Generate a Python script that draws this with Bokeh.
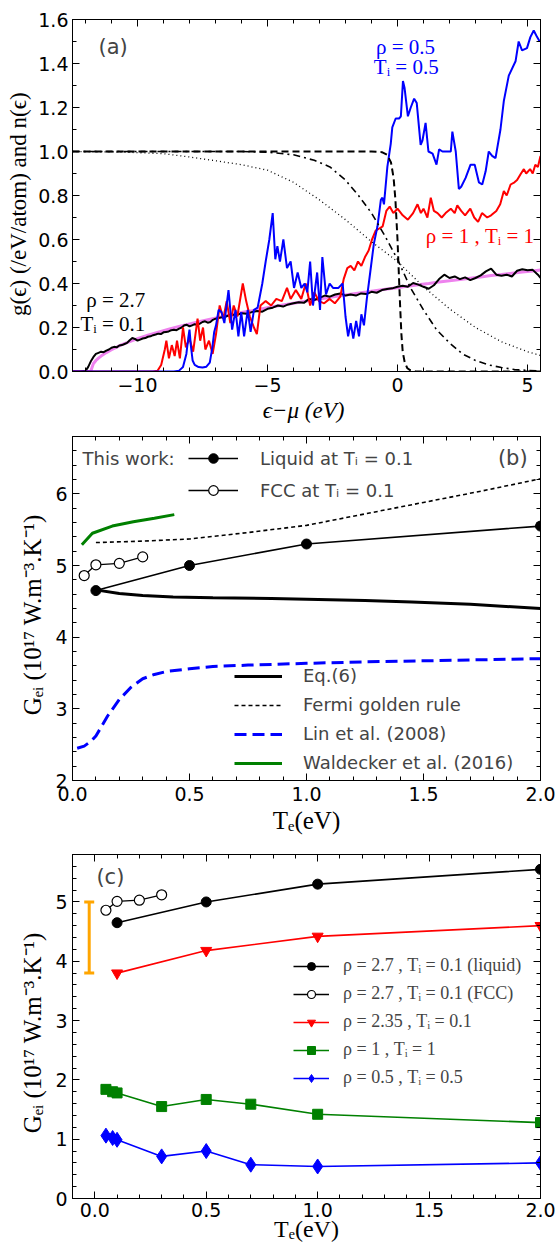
from bokeh.plotting import figure
from bokeh.layouts import column
from bokeh.models import (Range1d, LinearAxis, SingleIntervalTicker, Label, Legend,
                          LegendItem, Whisker, TeeHead, ColumnDataSource, CustomJSTickFormatter)
from bokeh.embed import file_html
from bokeh.resources import INLINE

SANS = "DejaVu Sans"
SERIF = "Liberation Serif"

# ---------------- panel (a) data ----------------
fe_eps = [-12.5, -11.8, -11.7, -11.6, -11.5, -11.4, -11.3, -11.2, -11.0, -10.8, -10.6, -10.4, -10.2, -10.0,
          -9.6, -9.2, -8.8, -8.4, -8.0, -7.6, -7.2, -6.8, -6.4, -6.0, -5.6, -5.2, -4.8, -4.4, -4.0,
          -3.6, -3.2, -2.8, -2.4, -2.0, -1.6, -1.2, -0.8, -0.4, 0.0, 0.4, 0.8, 1.2, 1.6, 2.0,
          2.4, 2.8, 3.2, 3.6, 4.0, 4.4, 4.8, 5.2, 5.5]
fe_dos = [0.0, 0.0, 0.035, 0.05, 0.061, 0.07, 0.078, 0.086, 0.099, 0.111, 0.122, 0.131, 0.14, 0.149,
          0.165, 0.179, 0.192, 0.205, 0.216, 0.227, 0.238, 0.248, 0.258, 0.268, 0.276, 0.285, 0.294, 0.302, 0.31,
          0.318, 0.326, 0.333, 0.341, 0.348, 0.355, 0.361, 0.368, 0.375, 0.381, 0.388, 0.394, 0.4, 0.407, 0.412,
          0.418, 0.424, 0.43, 0.436, 0.441, 0.447, 0.452, 0.457, 0.461]

dos_rho27 = [(-12.5, 0.0), (-12.2, 0.0), (-12.0, 0.003), (-11.9, 0.02), (-11.8, 0.045), (-11.7, 0.065),
             (-11.6, 0.08), (-11.5, 0.085), (-11.4, 0.09), (-11.3, 0.088), (-11.2, 0.095), (-11.1, 0.1),
             (-11.0, 0.108), (-10.9, 0.112), (-10.8, 0.11), (-10.7, 0.118), (-10.6, 0.12), (-10.5, 0.125),
             (-10.4, 0.13), (-10.3, 0.142), (-10.2, 0.152), (-10.1, 0.148), (-10.0, 0.14), (-9.9, 0.145),
             (-9.8, 0.15), (-9.7, 0.152), (-9.6, 0.158), (-9.5, 0.16), (-9.4, 0.165), (-9.3, 0.168),
             (-9.2, 0.172), (-9.1, 0.17), (-9.0, 0.178), (-8.9, 0.18), (-8.8, 0.182), (-8.7, 0.188),
             (-8.6, 0.19), (-8.5, 0.188), (-8.4, 0.195), (-8.3, 0.2), (-8.2, 0.21), (-8.1, 0.212),
             (-8.0, 0.205), (-7.9, 0.21), (-7.8, 0.215), (-7.7, 0.212), (-7.6, 0.218), (-7.5, 0.225),
             (-7.4, 0.228), (-7.3, 0.222), (-7.2, 0.225), (-7.1, 0.235), (-7.0, 0.24), (-6.8, 0.245),
             (-6.6, 0.25), (-6.4, 0.26), (-6.2, 0.255), (-6.0, 0.265), (-5.8, 0.262), (-5.6, 0.27),
             (-5.4, 0.275), (-5.2, 0.272), (-5.0, 0.285), (-4.8, 0.29), (-4.6, 0.3), (-4.4, 0.295),
             (-4.2, 0.305), (-4.0, 0.31), (-3.8, 0.315), (-3.6, 0.312), (-3.4, 0.33), (-3.2, 0.325),
             (-3.0, 0.335), (-2.8, 0.345), (-2.6, 0.34), (-2.4, 0.35), (-2.2, 0.355), (-2.0, 0.345),
             (-1.8, 0.35), (-1.6, 0.345), (-1.4, 0.355), (-1.2, 0.352), (-1.0, 0.362), (-0.8, 0.358),
             (-0.6, 0.37), (-0.4, 0.375), (-0.2, 0.378), (0.0, 0.385), (0.2, 0.39), (0.4, 0.385),
             (0.6, 0.402), (0.8, 0.395), (1.0, 0.385), (1.2, 0.376), (1.4, 0.392), (1.6, 0.42),
             (1.8, 0.44), (2.0, 0.425), (2.2, 0.432), (2.4, 0.42), (2.6, 0.428), (2.8, 0.415),
             (3.0, 0.425), (3.2, 0.437), (3.4, 0.455), (3.6, 0.468), (3.8, 0.44), (4.0, 0.435),
             (4.2, 0.44), (4.4, 0.432), (4.6, 0.458), (4.8, 0.465), (5.0, 0.46), (5.2, 0.462),
             (5.4, 0.44), (5.5, 0.425)]

dos_rho1 = [(-12.5, 0.0), (-9.4, 0.0), (-9.23, 0.003), (-9.09, 0.03), (-8.95, 0.1), (-8.89, 0.14),
            (-8.79, 0.06), (-8.68, 0.12), (-8.57, 0.07), (-8.48, 0.14), (-8.37, 0.06), (-8.25, 0.2),
            (-8.14, 0.11), (-8.0, 0.15), (-7.86, 0.09), (-7.69, 0.24), (-7.59, 0.14), (-7.48, 0.2),
            (-7.39, 0.1), (-7.25, 0.14), (-7.11, 0.08), (-6.98, 0.17), (-6.84, 0.3), (-6.7, 0.24),
            (-6.57, 0.32), (-6.43, 0.22), (-6.3, 0.3), (-6.16, 0.25), (-5.95, 0.4), (-5.82, 0.32),
            (-5.68, 0.25), (-5.52, 0.2), (-5.41, 0.17), (-5.27, 0.3), (-5.07, 0.32), (-4.86, 0.3),
            (-4.66, 0.33), (-4.45, 0.32), (-4.25, 0.38), (-4.11, 0.33), (-3.91, 0.37), (-3.7, 0.33),
            (-3.53, 0.4), (-3.36, 0.3), (-3.2, 0.36), (-3.02, 0.32), (-2.82, 0.31), (-2.61, 0.33),
            (-2.41, 0.31), (-2.2, 0.34), (-2.07, 0.42), (-1.93, 0.47), (-1.8, 0.48), (-1.66, 0.46),
            (-1.52, 0.5), (-1.39, 0.48), (-1.25, 0.52), (-1.11, 0.55), (-0.98, 0.6), (-0.84, 0.64),
            (-0.7, 0.65), (-0.57, 0.66), (-0.43, 0.73), (-0.3, 0.75), (-0.16, 0.72), (0.0, 0.74),
            (0.2, 0.71), (0.4, 0.69), (0.6, 0.72), (0.77, 0.76), (0.9, 0.72), (1.0, 0.74), (1.15, 0.7),
            (1.28, 0.79), (1.4, 0.73), (1.54, 0.72), (1.7, 0.7), (1.85, 0.72), (2.05, 0.74), (2.2, 0.72),
            (2.3, 0.755), (2.45, 0.73), (2.6, 0.71), (2.8, 0.74), (2.95, 0.7), (3.1, 0.68), (3.25, 0.72),
            (3.45, 0.7), (3.6, 0.71), (3.8, 0.73), (3.95, 0.76), (4.09, 0.82), (4.2, 0.8), (4.35, 0.85),
            (4.5, 0.86), (4.6, 0.87), (4.75, 0.9), (4.86, 0.92), (4.95, 0.9), (5.1, 0.92), (5.2, 0.9),
            (5.3, 0.94), (5.4, 0.93), (5.5, 0.98)]

dos_rho05 = [(-12.5, 0.0), (-8.6, 0.0), (-8.4, 0.004), (-8.25, 0.02), (-8.12, 0.08), (-8.05, 0.15),
             (-8.0, 0.19), (-7.95, 0.12), (-7.88, 0.05), (-7.8, 0.03), (-7.65, 0.02), (-7.5, 0.018),
             (-7.35, 0.022), (-7.22, 0.04), (-7.12, 0.11), (-7.05, 0.18), (-6.98, 0.21), (-6.88, 0.28),
             (-6.77, 0.27), (-6.66, 0.22), (-6.5, 0.37), (-6.36, 0.19), (-6.23, 0.28), (-6.12, 0.16),
             (-6.01, 0.27), (-5.9, 0.16), (-5.76, 0.28), (-5.65, 0.18), (-5.52, 0.28), (-5.38, 0.29),
             (-5.2, 0.4), (-5.07, 0.5), (-4.93, 0.6), (-4.8, 0.72), (-4.7, 0.51), (-4.62, 0.57),
             (-4.52, 0.5), (-4.39, 0.6), (-4.25, 0.47), (-4.11, 0.5), (-3.98, 0.38), (-3.84, 0.45),
             (-3.7, 0.38), (-3.57, 0.4), (-3.47, 0.36), (-3.36, 0.5), (-3.25, 0.3), (-3.09, 0.45),
             (-2.98, 0.28), (-2.89, 0.52), (-2.75, 0.35), (-2.61, 0.4), (-2.48, 0.38), (-2.27, 0.38),
             (-2.11, 0.4), (-2.0, 0.25), (-1.9, 0.16), (-1.8, 0.22), (-1.7, 0.15), (-1.59, 0.23),
             (-1.48, 0.16), (-1.39, 0.26), (-1.29, 0.21), (-1.18, 0.33), (-1.05, 0.45), (-0.91, 0.58),
             (-0.77, 0.66), (-0.64, 0.78), (-0.58, 0.79), (-0.52, 0.76), (-0.39, 0.93), (-0.26, 1.035),
             (-0.2, 1.11), (-0.07, 1.15), (0.06, 1.15), (0.13, 1.16), (0.21, 1.32), (0.27, 1.29),
             (0.4, 1.16), (0.51, 1.2), (0.64, 1.24), (0.74, 1.22), (0.89, 1.03), (0.96, 1.05),
             (1.08, 1.13), (1.19, 1.0), (1.35, 0.99), (1.5, 0.94), (1.6, 1.01), (1.73, 1.0), (1.92, 1.0),
             (2.05, 1.0), (2.11, 1.09), (2.24, 1.0), (2.36, 0.83), (2.45, 0.84), (2.62, 0.88),
             (2.81, 0.94), (2.97, 0.94), (3.13, 0.86), (3.26, 0.85), (3.39, 0.91), (3.51, 1.0),
             (3.64, 0.98), (3.77, 0.97), (3.96, 1.1), (4.09, 1.23), (4.28, 1.345), (4.54, 1.41),
             (4.66, 1.5), (4.79, 1.46), (4.98, 1.47), (5.11, 1.52), (5.24, 1.55), (5.37, 1.52),
             (5.47, 1.5)]

occ_low_eps = [-12.5, -1.0, -0.6, -0.4, -0.25, -0.15, -0.08, 0.0, 0.05, 0.1, 0.15, 0.2, 0.28, 0.38, 0.5, 0.7, 5.5]
occ_low = [1.0, 1.0, 0.997, 0.985, 0.95, 0.88, 0.78, 0.6, 0.45, 0.3, 0.17, 0.09, 0.04, 0.015, 0.005, 0.0, 0.0]
occ_mid_eps = [-12.5, -6.0, -5.0, -4.0, -3.2, -2.6, -2.0, -1.5, -1.0, -0.5, 0.0, 0.5, 1.0, 1.5,
               2.0, 2.5, 3.0, 3.5, 4.0, 4.5, 5.0, 5.5]
occ_mid = [1.0, 1.0, 0.997, 0.985, 0.96, 0.93, 0.87, 0.8, 0.72, 0.62, 0.51, 0.38, 0.28, 0.19,
           0.13, 0.08, 0.05, 0.03, 0.018, 0.009, 0.005, 0.003]
occ_high_eps = [-12.5, -11.0, -10.0, -9.0, -8.0, -7.0, -6.0, -5.0, -4.0, -3.0, -2.0, -1.0, 0.0,
                1.0, 2.0, 3.0, 4.0, 5.0, 5.5]
occ_high = [1.0, 0.998, 0.995, 0.99, 0.975, 0.958, 0.94, 0.915, 0.86, 0.78, 0.69, 0.59, 0.5,
            0.385, 0.285, 0.2, 0.135, 0.09, 0.073]

# ---------------- panel (b) / (c) data ----------------
te_liq = [0.1, 0.5, 1.0, 2.0]
g_liq = [4.65, 5.0, 5.3, 5.55]
te_fcc = [0.05, 0.1, 0.2, 0.3]
g_fcc = [4.86, 5.01, 5.03, 5.12]
te_eq6 = [0.1, 0.2, 0.3, 0.43, 0.6, 0.85, 1.0, 1.25, 1.45, 1.7, 2.0]
g_eq6 = [4.66, 4.61, 4.58, 4.56, 4.55, 4.54, 4.53, 4.51, 4.49, 4.46, 4.40]
te_fgr = [0.1, 0.3, 0.5, 0.75, 1.0, 1.25, 1.5, 1.75, 2.0]
g_fgr = [5.32, 5.34, 5.37, 5.46, 5.56, 5.72, 5.88, 6.04, 6.21]
te_lin = [0.02, 0.05, 0.08, 0.1, 0.15, 0.2, 0.25, 0.3, 0.35, 0.4, 0.5, 0.6, 0.75, 1.0,
          1.25, 1.5, 1.75, 2.0]
g_lin = [2.45, 2.48, 2.55, 2.62, 2.9, 3.13, 3.3, 3.42, 3.48, 3.52, 3.56, 3.59, 3.61, 3.635,
         3.655, 3.67, 3.685, 3.7]
te_wal = [0.04, 0.085, 0.17, 0.26, 0.35, 0.435]
g_wal = [5.29, 5.45, 5.55, 5.61, 5.66, 5.71]

te_235 = [0.1, 0.5, 1.0, 2.0]
g_235 = [3.8, 4.18, 4.42, 4.6]
te_lowrho = [0.05, 0.08, 0.1, 0.3, 0.5, 0.7, 1.0, 2.0]
g_rho1 = [1.84, 1.8, 1.78, 1.55, 1.67, 1.59, 1.42, 1.28]
g_rho05 = [1.06, 1.02, 0.99, 0.71, 0.8, 0.57, 0.54, 0.6]
exp_te = [-0.025]
exp_lo = [3.8]
exp_hi = [5.0]


def fmt(code):
    return CustomJSTickFormatter(code=code)


def style(p, xint, xminor, yint, yminor, xfmt, yfmt):
    p.grid.visible = False
    p.outline_line_color = "black"
    p.outline_line_alpha = 1.0
    p.outline_line_width = 1
    p.background_fill_color = "white"
    p.border_fill_color = "white"
    xt = SingleIntervalTicker(interval=xint, num_minor_ticks=xminor)
    yt = SingleIntervalTicker(interval=yint, num_minor_ticks=yminor)
    bottom = p.xaxis[0]
    left = p.yaxis[0]
    bottom.ticker = xt
    left.ticker = yt
    bottom.formatter = fmt(xfmt)
    left.formatter = fmt(yfmt)
    top = LinearAxis(ticker=xt)
    right = LinearAxis(ticker=yt)
    p.add_layout(top, "above")
    p.add_layout(right, "right")
    for ax in (bottom, left, top, right):
        ax.major_tick_in = 7
        ax.major_tick_out = 0
        ax.minor_tick_in = 4
        ax.minor_tick_out = 0
        ax.axis_line_color = "black"
        ax.major_tick_line_color = "black"
        ax.minor_tick_line_color = "black"
        ax.major_label_text_font = SANS
        ax.major_label_text_font_size = "19px"
        ax.major_label_text_color = "black"
        ax.major_label_standoff = 5
        ax.axis_label_text_font = SERIF
        ax.axis_label_text_font_style = "normal"
        ax.axis_label_text_color = "black"
    for ax in (top, right):
        ax.major_label_text_font_size = "8px"
        ax.major_label_text_color = None
        ax.major_label_text_alpha = 0
        ax.major_label_standoff = 0
        ax.axis_label = None
    return bottom, left


# ================= panel (a) =================
pa = figure(width=557, height=429, output_backend="svg", toolbar_location=None,
            x_range=Range1d(-12.5, 5.5), y_range=Range1d(0, 1.6),
            min_border_left=71, min_border_right=17, min_border_top=19, min_border_bottom=58)
ax_b, ax_l = style(pa, 5, 5, 0.2, 2,
                   "return tick < 0 ? '\\u2212' + (-tick) : '' + tick;",
                   "return tick.toFixed(1);")
ax_l.axis_label = "g(ϵ)  (/eV/atom)  and  n(ϵ)"
ax_l.axis_label_text_font_size = "23px"
ax_l.axis_label_standoff = 4
ax_l.major_label_standoff = 4
ax_b.axis_label = "ϵ−μ  (eV)"
ax_b.axis_label_text_font_size = "23px"
ax_b.axis_label_text_font_style = "italic"
ax_b.axis_label_standoff = 3
ax_b.major_label_standoff = 6

pa.line(fe_eps, fe_dos, line_color="violet", line_width=3)
pa.line([e for e, g in dos_rho27], [g for e, g in dos_rho27], line_color="black", line_width=2)
pa.line([e for e, g in dos_rho1], [g for e, g in dos_rho1], line_color="red", line_width=2)
pa.line([e for e, g in dos_rho05], [g for e, g in dos_rho05], line_color="blue", line_width=2)
pa.line(occ_low_eps, occ_low, line_color="black", line_width=2, line_dash="7 4")
pa.line(occ_mid_eps, occ_mid, line_color="black", line_width=1.6, line_dash="7 4 2 4")
pa.line(occ_high_eps, occ_high, line_color="black", line_width=1.3, line_dash="1 3")

pa.add_layout(Label(x=-11.5, y=1.473, text="(a)", text_font=SANS, text_font_size="21px",
                    text_baseline="middle", text_align="left"))
pa.add_layout(Label(x=-0.83, y=1.473, text="ρ = 0.5", text_font=SERIF, text_font_size="21px",
                    text_color="blue", text_baseline="middle", text_align="left"))
pa.add_layout(Label(x=-0.91, y=1.382, text="Tᵢ = 0.5", text_font=SERIF, text_font_size="21px",
                    text_color="blue", text_baseline="middle", text_align="left"))
pa.add_layout(Label(x=5.25, y=0.618, text="ρ = 1 , Tᵢ = 1", text_font=SERIF, text_font_size="21px",
                    text_color="red", text_baseline="middle", text_align="right"))
pa.add_layout(Label(x=-9.7, y=0.323, text="ρ = 2.7", text_font=SERIF, text_font_size="21px",
                    text_color="black", text_baseline="middle", text_align="right"))
pa.add_layout(Label(x=-9.7, y=0.218, text="Tᵢ = 0.1", text_font=SERIF, text_font_size="21px",
                    text_color="black", text_baseline="middle", text_align="right"))

# ================= panel (b) =================
pb = figure(width=557, height=413, output_backend="svg", toolbar_location=None,
            x_range=Range1d(0, 2.0), y_range=Range1d(2, 6.8),
            min_border_left=72, min_border_right=17, min_border_top=7, min_border_bottom=62)
bx_b, bx_l = style(pb, 0.5, 5, 1, 5, "return tick.toFixed(1);", "return tick.toFixed(0);")
bx_l.axis_label = "Gₑᵢ  (10¹⁷  W.m⁻³.K⁻¹)"
bx_l.axis_label_text_font_size = "25px"
bx_l.axis_label_standoff = 6
bx_l.major_label_standoff = 5
bx_b.axis_label = "Tₑ(eV)"
bx_b.axis_label_text_font_size = "25px"
bx_b.axis_label_standoff = 3
bx_b.major_label_standoff = 6

r_eq6 = pb.line(te_eq6, g_eq6, line_color="black", line_width=3)
r_fgr = pb.line(te_fgr, g_fgr, line_color="black", line_width=1.6, line_dash="4 3")
r_lin = pb.line(te_lin, g_lin, line_color="blue", line_width=3, line_dash="12 6")
r_wal = pb.line(te_wal, g_wal, line_color="green", line_width=3)
r_liq_l = pb.line(te_liq, g_liq, line_color="black", line_width=1.6)
r_liq_m = pb.scatter(te_liq, g_liq, marker="circle", size=10, fill_color="black", line_color="black")
r_fcc_l = pb.line(te_fcc, g_fcc, line_color="black", line_width=1.3)
r_fcc_m = pb.scatter(te_fcc, g_fcc, marker="circle", size=10, fill_color="white", line_color="black",
                     line_width=1.2)

pb.add_layout(Label(x=0.043, y=6.5, text="This work:", text_font=SANS, text_font_size="18px",
                    text_baseline="middle", text_align="left"))
pb.add_layout(Label(x=1.945, y=6.5, text="(b)", text_font=SANS, text_font_size="21px",
                    text_baseline="middle", text_align="right"))

leg_b1 = Legend(items=[LegendItem(label="Liquid at Tᵢ = 0.1", renderers=[r_liq_l, r_liq_m]),
                       LegendItem(label="FCC at Tᵢ = 0.1", renderers=[r_fcc_l, r_fcc_m])],
                location=(116, 278), glyph_width=50, glyph_height=24, label_height=24, spacing=8,
                label_standoff=22, padding=0, margin=0, border_line_color=None,
                background_fill_alpha=0, label_text_font=SANS, label_text_font_size="18px")
leg_b2 = Legend(items=[LegendItem(label="Eq.(6)", renderers=[r_eq6]),
                       LegendItem(label="Fermi golden rule", renderers=[r_fgr]),
                       LegendItem(label="Lin et al. (2008)", renderers=[r_lin]),
                       LegendItem(label="Waldecker et al. (2016)", renderers=[r_wal])],
                location=(162, 7), glyph_width=48, glyph_height=20, label_height=20, spacing=8,
                label_standoff=21, padding=0, margin=0, border_line_color=None,
                background_fill_alpha=0, label_text_font=SANS, label_text_font_size="18px")
pb.add_layout(leg_b1, "center")
pb.add_layout(leg_b2, "center")

# ================= panel (c) =================
pc = figure(width=557, height=405, output_backend="svg", toolbar_location=None,
            x_range=Range1d(-0.1, 2.0), y_range=Range1d(0, 5.8),
            min_border_left=66, min_border_right=17, min_border_top=12, min_border_bottom=49)
cx_b, cx_l = style(pc, 0.5, 5, 1, 5, "return tick.toFixed(1);", "return tick.toFixed(0);")
cx_l.axis_label = "Gₑᵢ  (10¹⁷  W.m⁻³.K⁻¹)"
cx_l.axis_label_text_font_size = "25px"
cx_l.axis_label_standoff = 6
cx_b.major_label_standoff = 4
cx_b.axis_label = "Tₑ(eV)"
cx_b.axis_label_text_font_size = "24px"
cx_b.axis_label_standoff = -4

src_err = ColumnDataSource(dict(x=exp_te, lo=exp_lo, hi=exp_hi))
pc.add_layout(Whisker(source=src_err, base="x", lower="lo", upper="hi", dimension="height",
                      line_color="orange", line_width=3,
                      upper_head=TeeHead(size=10, line_color="orange", line_width=3),
                      lower_head=TeeHead(size=10, line_color="orange", line_width=3)))

c_liq_l = pc.line(te_liq, g_liq, line_color="black", line_width=1.6)
c_liq_m = pc.scatter(te_liq, g_liq, marker="circle", size=10, fill_color="black", line_color="black")
c_fcc_l = pc.line(te_fcc, g_fcc, line_color="black", line_width=1.3)
c_fcc_m = pc.scatter(te_fcc, g_fcc, marker="circle", size=10, fill_color="white", line_color="black",
                     line_width=1.2)
c_235_l = pc.line(te_235, g_235, line_color="red", line_width=1.6)
c_235_m = pc.scatter(te_235, g_235, marker="inverted_triangle", size=11, fill_color="red", line_color="red")
c_1_l = pc.line(te_lowrho, g_rho1, line_color="green", line_width=1.6)
c_1_m = pc.scatter(te_lowrho, g_rho1, marker="square", size=10, fill_color="green", line_color="green")
c_05_l = pc.line(te_lowrho, g_rho05, line_color="blue", line_width=1.6)
c_05_m = pc.scatter(te_lowrho, g_rho05, marker="diamond", size=15, fill_color="blue", line_color="blue")

pc.add_layout(Label(x=0.07, y=5.42, text="(c)", text_font=SANS, text_font_size="21px",
                    text_baseline="middle", text_align="center"))

leg_c = Legend(items=[LegendItem(label="ρ = 2.7 , Tᵢ = 0.1 (liquid)", renderers=[c_liq_l, c_liq_m]),
                      LegendItem(label="ρ = 2.7 , Tᵢ = 0.1 (FCC)", renderers=[c_fcc_l, c_fcc_m]),
                      LegendItem(label="ρ = 2.35 , Tᵢ = 0.1", renderers=[c_235_l, c_235_m]),
                      LegendItem(label="ρ = 1 , Tᵢ = 1", renderers=[c_1_l, c_1_m]),
                      LegendItem(label="ρ = 0.5 , Tᵢ = 0.5", renderers=[c_05_l, c_05_m])],
               location=(221, 110), glyph_width=36, glyph_height=20, label_height=20, spacing=7,
               label_standoff=14, padding=0, margin=0, border_line_color=None,
               background_fill_alpha=0, label_text_font=SERIF, label_text_font_size="18px")
pc.add_layout(leg_c, "center")

layout = column(pa, pb, pc, spacing=0)
open("out.html", "w").write(file_html(layout, INLINE))
